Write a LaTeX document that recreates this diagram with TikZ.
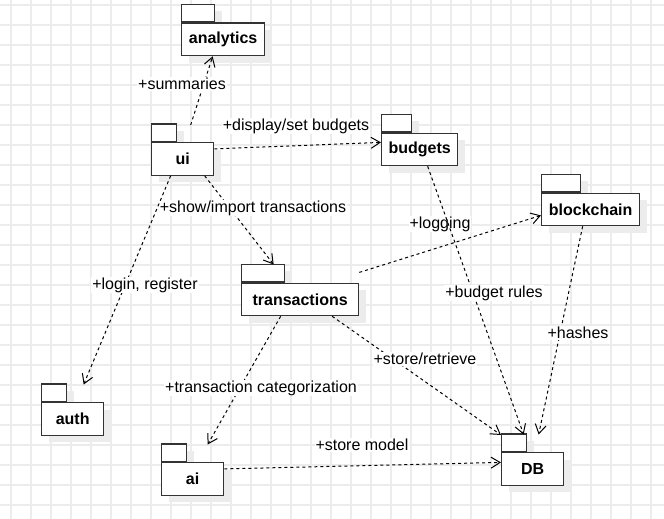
\documentclass[tikz,border=0pt]{standalone}
\usepackage{fontspec}
\setmainfont{Liberation Sans}
\usetikzlibrary{arrows.meta,shadows}
\definecolor{gridc}{RGB}{236,236,236}
\definecolor{shadowc}{RGB}{236,236,236}
\definecolor{boxc}{RGB}{51,51,51}
\tikzset{
  pkgshadow/.style={drop shadow={shadow xshift=7pt,shadow yshift=-7pt,fill=shadowc,opacity=1}},
  pkgbox/.style={draw=boxc, line width=1.3pt, fill=white, pkgshadow,
    font=\bfseries\fontsize{16}{19}\selectfont, minimum height=32.5pt,
    inner sep=0pt, anchor=north west},
  pkgtab/.style={draw=boxc, line width=1.3pt, fill=white, pkgshadow,
    minimum height=17.5pt, inner sep=0pt, anchor=south west},
  depedge/.style={draw=black, line width=1pt, dash pattern=on 3pt off 3pt,
    -{Straight Barb[length=9pt,width=11pt]}},
  lbl/.style={fill=white, inner sep=1pt, font=\fontsize{16}{19}\selectfont}
}
\begin{document}
\begin{tikzpicture}[x=1pt,y=-1pt]
\useasboundingbox (0,0) rectangle (664,519);
\fill[white] (0,0) rectangle (664,519);
% grid
\foreach \gx in {11,31,...,651} \draw[gridc, line width=1.6pt] (\gx,0) -- (\gx,519);
\foreach \gy in {5,25,...,505} \draw[gridc, line width=1.6pt] (0,\gy) -- (664,\gy);

% packages: tab first, then main box
\node[pkgtab, minimum width=33pt] (analytics-tab) at (181,22.5) {};
\node[pkgbox, minimum width=83pt] (analytics) at (analytics-tab.south west) {analytics};

\node[pkgtab, minimum width=25pt] (ui-tab) at (151,142) {};
\node[pkgbox, minimum width=62pt] (ui) at (ui-tab.south west) {ui};

\node[pkgtab, minimum width=30pt] (budgets-tab) at (381,132.5) {};
\node[pkgbox, minimum width=76pt] (budgets) at (budgets-tab.south west) {budgets};

\node[pkgtab, minimum width=39pt] (blockchain-tab) at (541,192.5) {};
\node[pkgbox, minimum width=98pt] (blockchain) at (blockchain-tab.south west) {blockchain};

\node[pkgtab, minimum width=43pt] (transactions-tab) at (241,282.5) {};
\node[pkgbox, minimum width=117pt] (transactions) at (transactions-tab.south west) {transactions};

\node[pkgtab, minimum width=25pt] (auth-tab) at (41,402) {};
\node[pkgbox, minimum width=62pt] (auth) at (auth-tab.south west) {auth};

\node[pkgtab, minimum width=25pt] (ai-tab) at (161,462) {};
\node[pkgbox, minimum width=62pt] (ai) at (ai-tab.south west) {ai};

\node[pkgtab, minimum width=25pt] (DB-tab) at (501,452) {};
\node[pkgbox, minimum width=62pt] (DB) at (DB-tab.south west) {DB};

% dependencies
\draw[depedge] ([xshift=8pt,yshift=17pt]ui.north) -- ([xshift=-10.5pt]analytics.south);
\node[lbl] (l1) at (182,84) {+summaries};

\draw[depedge] ([yshift=10pt]ui.east) -- ([yshift=7pt]budgets.west);
\node[lbl] (l2) at (296,126) {+display/set budgets};

\draw[depedge] ([xshift=22pt]ui.south) -- ([xshift=-26.5pt,yshift=18pt]transactions.north);
\node[lbl] (l3) at (253,208) {+show/import transactions};

\draw[depedge] ([xshift=-12pt]ui.south) -- ([xshift=11pt,yshift=17.5pt]auth.north);
\node[lbl] (l4) at (145,285) {+login, register};

\draw[depedge] ([yshift=27pt]transactions.east) -- ([yshift=-6pt]blockchain.west);
\node[lbl] (l5) at (440,224) {+logging};

\draw[depedge] ([xshift=8pt]budgets.south) -- ([xshift=-9pt,yshift=17.5pt]DB.north);
\node[lbl] (l6) at (494,293) {+budget rules};

\draw[depedge] ([xshift=-8pt]blockchain.south) -- ([xshift=6pt,yshift=17.5pt]DB.north);
\node[lbl] (l7) at (578,333) {+hashes};

\draw[depedge] ([xshift=32pt]transactions.south) -- ([yshift=17pt]DB.north west);
\node[lbl] (l8) at (425,359) {+store/retrieve};

\draw[depedge] ([xshift=-19.5pt]transactions.south) -- ([xshift=15pt,yshift=17.5pt]ai.north);
\node[lbl] (l9) at (261,388) {+transaction categorization};

\draw[depedge] ([yshift=10pt]ai.east) -- ([yshift=6.5pt]DB.west);
\node[lbl] (l10) at (362,445) {+store model};
\end{tikzpicture}
\end{document}
